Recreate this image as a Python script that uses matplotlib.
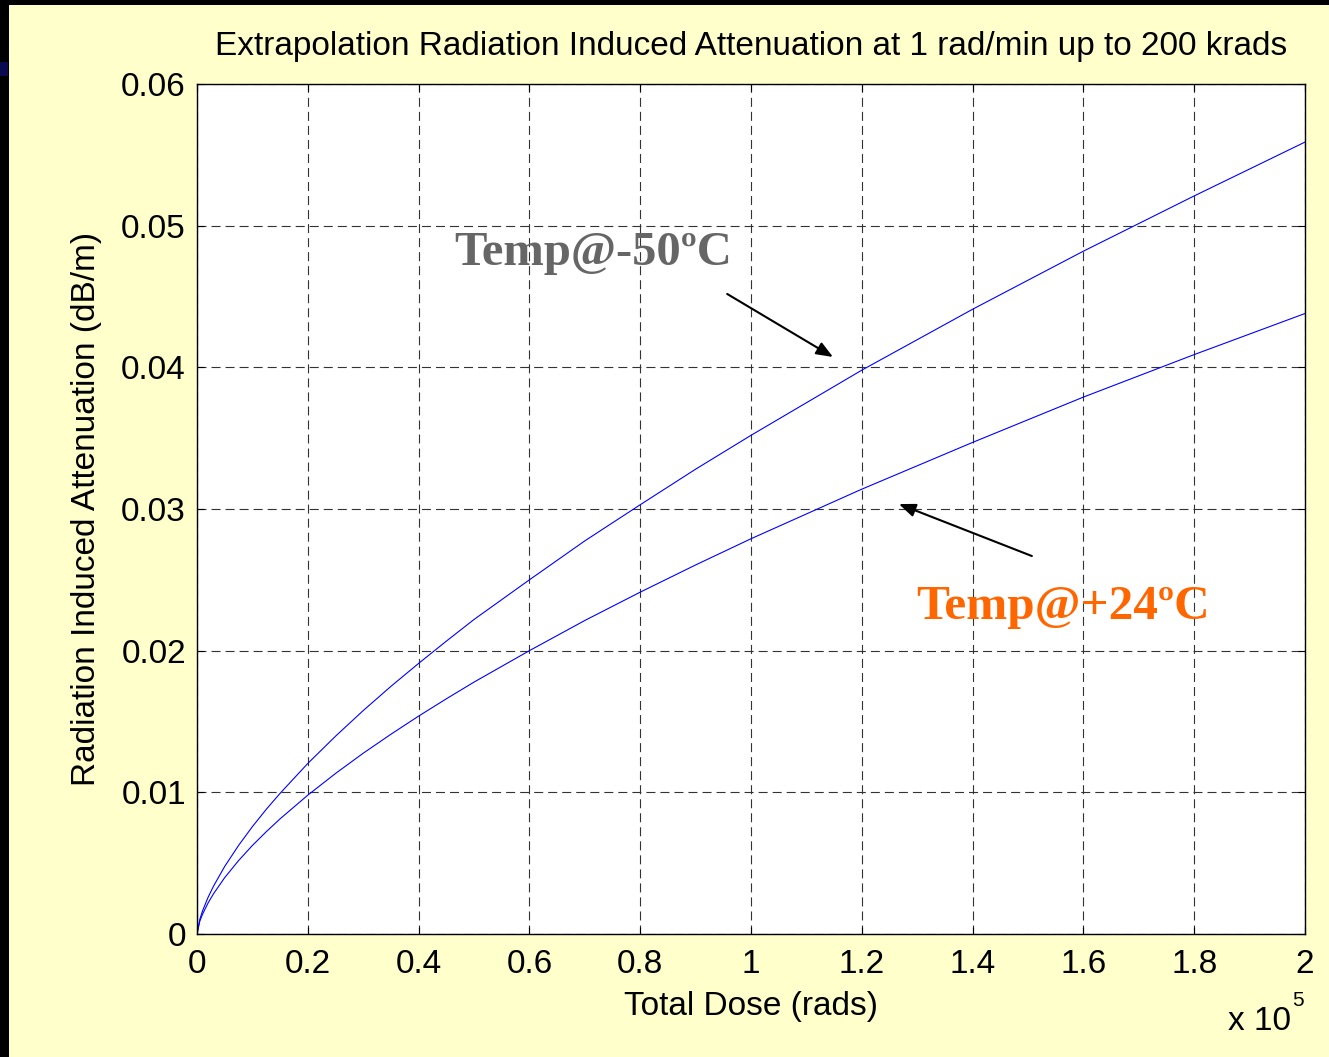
import matplotlib
matplotlib.use("Agg")
import matplotlib.pyplot as plt
from matplotlib.patches import Rectangle

# Data, dose in rads
dose = [0, 500, 1000, 2000, 3000, 5000, 7500, 10000, 12500, 15000, 20000, 25000,
        30000, 35000, 40000, 45000, 50000, 60000, 70000, 80000, 90000, 100000,
        120000, 140000, 160000, 180000, 200000]
att_minus50 = [0, 0.00102, 0.00163, 0.00259, 0.00339, 0.00477, 0.00625, 0.00758,
               0.0088, 0.00993, 0.01204, 0.01396, 0.01577, 0.01748, 0.0191, 0.02067,
               0.0222, 0.0250, 0.02775, 0.0303, 0.03281, 0.0352, 0.0398, 0.0441,
               0.0482, 0.0521, 0.0559]
att_plus24 = [0, 0.00090, 0.00140, 0.00219, 0.00285, 0.00398, 0.00518, 0.00625,
              0.00722, 0.00813, 0.0098, 0.01133, 0.01276, 0.0141, 0.01538, 0.0166,
              0.01778, 0.0200, 0.02213, 0.02413, 0.02605, 0.0279, 0.0314, 0.0347,
              0.0379, 0.0409, 0.0438]
xticks = [0, 20000, 40000, 60000, 80000, 100000, 120000, 140000, 160000, 180000, 200000]
xticklabels = ["0", "0.2", "0.4", "0.6", "0.8", "1", "1.2", "1.4", "1.6", "1.8", "2"]
yticks = [0, 0.01, 0.02, 0.03, 0.04, 0.05, 0.06]
yticklabels = ["0", "0.01", "0.02", "0.03", "0.04", "0.05", "0.06"]

plt.rcParams['font.family'] = ['Liberation Sans', 'DejaVu Sans']
plt.rcParams['lines.scale_dashes'] = False

W, H = 1329, 1057
fig = plt.figure(figsize=(W / 100, H / 100), dpi=100, facecolor="#FFFFCC")
# dark slide border strips (top and left)
fig.patches.append(Rectangle((0, (H - 5) / H), 1, 5 / H, transform=fig.transFigure,
                             facecolor="black", edgecolor="none"))
fig.patches.append(Rectangle((0, 0), 9 / W, 1, transform=fig.transFigure,
                             facecolor="black", edgecolor="none"))
fig.patches.append(Rectangle((0, (H - 76) / H), 8 / W, 14 / H, transform=fig.transFigure,
                             facecolor="#0A0A50", edgecolor="none"))

ax = fig.add_axes([197 / W, (H - 934) / H, 1108 / W, 850 / H])
ax.set_facecolor("white")

ax.plot(dose, att_minus50, color="#0000FF", lw=0.8)
ax.plot(dose, att_plus24, color="#0000FF", lw=0.8)

ax.set_xlim(0, 200000)
ax.set_ylim(0, 0.06)
ax.set_xticks(xticks)
ax.set_xticklabels(xticklabels)
ax.set_yticks(yticks)
ax.set_yticklabels(yticklabels)
ax.tick_params(direction="in", length=5, width=0.8, top=True, right=True,
               labelsize=24, pad=8, colors="black")
ax.tick_params(axis="x", pad=11)
for s in ax.spines.values():
    s.set_linewidth(1.0)
    s.set_color("black")
ax.grid(True, color="#333333", linestyle=(0, (6.5, 3.6)), linewidth=0.8)

ax.set_title("Extrapolation Radiation Induced Attenuation at 1 rad/min up to 200 krads",
             fontsize=24, pad=21)
ax.set_xlabel("Total Dose (rads)", fontsize=24, labelpad=8)
ax.set_ylabel("Radiation Induced Attenuation (dB/m)", fontsize=24, labelpad=14)

fig.text(1228 / W, 1 - 1022 / H, "x 10", fontsize=24, ha="left", va="center")
fig.text(1292 / W, 1 - 1000 / H, "5", fontsize=15, ha="left", va="center")

ax.text(71500, 0.0481, "Temp@-50ºC", family=["Liberation Serif", "DejaVu Serif"],
        fontweight="bold", fontsize=35, color="#666666", ha="center", va="center")
ax.text(156300, 0.0231, "Temp@+24ºC", family=["Liberation Serif", "DejaVu Serif"],
        fontweight="bold", fontsize=35.5, color="#FF6600", ha="center", va="center")

arrowprops = dict(arrowstyle="-|>,head_length=1.0,head_width=0.4", color="black", lw=1.5,
                  shrinkA=0, shrinkB=0)
ax.annotate("", xy=(114800, 0.04073), xytext=(95700, 0.04518), arrowprops=arrowprops)
ax.annotate("", xy=(126700, 0.03035), xytext=(150700, 0.02668), arrowprops=arrowprops)

fig.savefig("out.png", dpi=100, facecolor=fig.get_facecolor())
